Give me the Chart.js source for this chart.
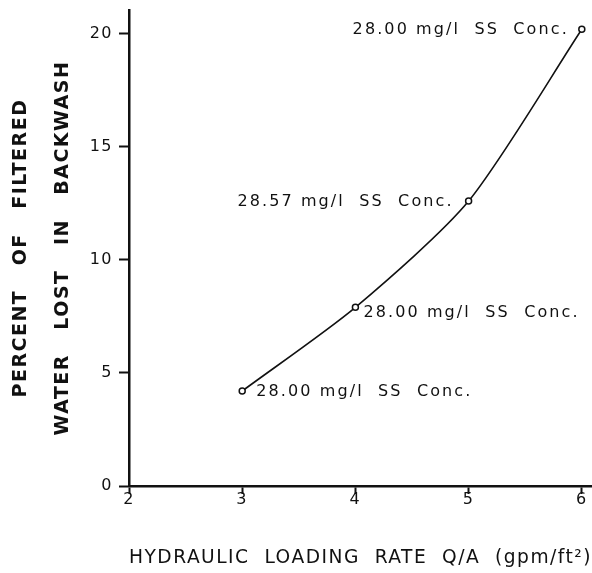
<!DOCTYPE html>
<html>
<head>
<meta charset="utf-8">
<script src="https://cdn.jsdelivr.net/npm/chart.js@4"></script>
<style>
  body { margin: 0; background: #fff; }
  canvas { display: block; }
</style>
</head>
<body>
<canvas id="washChart" width="592" height="573"></canvas>
<script>
// Hydraulic loading rate vs. backwash loss
const loadingRates = [3, 4, 5, 6];
const percentLost = [4.2, 7.9, 12.6, 20.2];
const concLabels = [
  '28.00 mg/l  SS  Conc.',
  '28.00 mg/l  SS  Conc.',
  '28.57 mg/l  SS  Conc.',
  '28.00 mg/l  SS  Conc.'
];
const xTicks = [2, 3, 4, 5, 6];
const yTicks = [0, 5, 10, 15, 20];

const ink = '#111';
const fontFace = '"DejaVu Sans", sans-serif';

// where each concentration note sits next to its point
const labelPlace = [
  { align: 'left', dx: 14, dy: 1 },
  { align: 'left', dx: 8, dy: 5 },
  { align: 'right', dx: -15, dy: 1 },
  { align: 'right', dx: -13, dy: 1 }
];

// run the x axis right out to the canvas edge
const fullWidthAxis = {
  id: 'fullWidthAxis',
  afterLayout(chart) {
    const s = chart.scales.x;
    s.right = chart.width;
    s.width = s.right - s.left;
    s.configure();
    chart.chartArea.right = chart.width;
    chart.chartArea.width = chart.width - chart.chartArea.left;
  }
};

// lettering on the original drawing is wide, so space the axis text out
const wideLettering = {
  id: 'wideLettering',
  beforeDraw(chart) {
    chart.ctx.letterSpacing = '1.5px';
  }
};

const pointNotes = {
  id: 'pointNotes',
  afterDatasetsDraw(chart) {
    const ctx = chart.ctx;
    const meta = chart.getDatasetMeta(0);
    ctx.save();
    ctx.letterSpacing = '2.1px';
    ctx.fillStyle = ink;
    ctx.font = '16px ' + fontFace;
    ctx.textBaseline = 'middle';
    meta.data.forEach((pt, i) => {
      const p = labelPlace[i];
      ctx.textAlign = p.align;
      ctx.fillText(concLabels[i], pt.x + p.dx, pt.y + p.dy);
    });
    ctx.restore();
  }
};

const ctx = document.getElementById('washChart').getContext('2d');
new Chart(ctx, {
  type: 'line',
  data: {
    datasets: [{
      data: loadingRates.map((x, i) => ({ x: x, y: percentLost[i] })),
      borderColor: ink,
      borderWidth: 1.6,
      tension: 0.25,
      pointRadius: 3,
      pointBorderWidth: 1.5,
      pointBorderColor: ink,
      pointBackgroundColor: '#fff',
      clip: false
    }]
  },
  options: {
    responsive: false,
    animation: false,
    layout: { padding: { top: 10, right: 0, left: 0, bottom: 0 } },
    plugins: {
      legend: { display: false },
      tooltip: { enabled: false }
    },
    scales: {
      x: {
        type: 'linear',
        min: 2,
        max: 6.09,
        afterBuildTicks: s => { s.ticks = xTicks.map(v => ({ value: v })); },
        afterFit: s => { s.height = 87; },
        border: { display: true, color: ink, width: 2.5 },
        grid: { drawOnChartArea: false, drawTicks: true, tickLength: 8, tickWidth: 2, color: ink },
        ticks: { color: ink, padding: -4, font: { family: fontFace, size: 16 } },
        title: {
          display: true,
          text: 'HYDRAULIC  LOADING  RATE  Q/A  (gpm/ft²)',
          color: ink,
          font: { family: fontFace, size: 19 },
          padding: { top: 0, bottom: 4 }
        }
      },
      y: {
        min: 0,
        max: 21.05,
        afterBuildTicks: s => { s.ticks = yTicks.map(v => ({ value: v })); },
        afterFit: s => { s.width = 129; s.paddingTop = 0; s.paddingBottom = 0; },
        border: { display: true, color: ink, width: 2.5 },
        grid: { drawOnChartArea: false, drawTicks: true, tickLength: 10, tickWidth: 2, color: ink },
        ticks: { color: ink, padding: 6, font: { family: fontFace, size: 16 } },
        title: {
          display: true,
          text: ['PERCENT   OF   FILTERED', 'WATER   LOST   IN   BACKWASH'],
          color: ink,
          font: { family: fontFace, size: 19, weight: 'bold', lineHeight: 2.2 },
          padding: { top: 0, bottom: 0 }
        }
      }
    }
  },
  plugins: [fullWidthAxis, wideLettering, pointNotes]
});
</script>
</body>
</html>
